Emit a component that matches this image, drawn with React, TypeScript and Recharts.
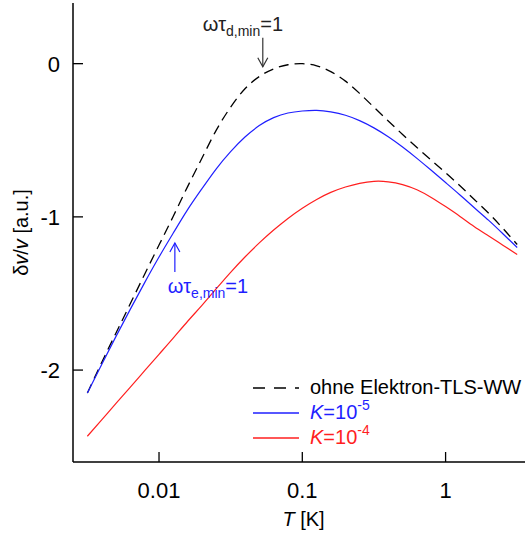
import { LineChart, Line, XAxis, YAxis, Legend, ReferenceDot } from "recharts";

// temperature grid [K], ten points per decade
const T = [
  0.00316, 0.00398, 0.00501, 0.00631, 0.00794, 0.01, 0.0126, 0.0158, 0.02, 0.0251, 0.0316, 0.0398, 0.0501, 0.0631, 0.0794, 0.1,
  0.126, 0.158, 0.2, 0.251, 0.316, 0.398, 0.501, 0.631, 0.794, 1, 1.26, 1.58, 2, 2.51, 3.16,
];
// dv/v
const ohneWW = [
  -2.15, -1.95, -1.758, -1.566, -1.374, -1.184, -0.994, -0.804, -0.614, -0.434, -0.284, -0.164, -0.084, -0.034, -0.007, 0.0,
  -0.014, -0.052, -0.114, -0.194, -0.284, -0.374, -0.462, -0.547, -0.63, -0.712, -0.797, -0.885, -0.977, -1.075, -1.18,
];
const k1e5 = [
  -2.15, -1.963, -1.78, -1.602, -1.429, -1.262, -1.104, -0.954, -0.814, -0.686, -0.574, -0.479, -0.404, -0.352, -0.322, -0.309,
  -0.305, -0.315, -0.337, -0.372, -0.419, -0.477, -0.544, -0.618, -0.696, -0.776, -0.857, -0.939, -1.023, -1.11, -1.2,
];
const k1e4 = [
  -2.432, -2.325, -2.218, -2.111, -2.004, -1.897, -1.79, -1.683, -1.576, -1.469, -1.362, -1.262, -1.17, -1.086, -1.01, -0.943,
  -0.886, -0.84, -0.805, -0.781, -0.768, -0.771, -0.789, -0.823, -0.873, -0.933, -0.997, -1.063, -1.125, -1.185, -1.245,
];

const xTicks = [0.01, 0.1, 1];
const yTicks = [-2, -1, 0];
const legendOrder = ["ohne", "k5", "k4"];

const data = T.map((t, i) => ({ T: t, ohne: ohneWW[i], k5: k1e5[i], k4: k1e4[i] }));

const FONT = "'Liberation Sans', Arial, Helvetica, sans-serif";
const BLUE = "#1f1fff";
const RED = "#ff1f1f";

const BottomTick = (p: any) => (
  <g>
    <line x1={p.x} y1={p.y} x2={p.x} y2={p.y - 10} stroke="#000" strokeWidth={1.3} />
    <text x={p.x} y={p.y + 36} textAnchor="middle" fontSize={22} fill="#000">
      {String(p.payload.value)}
    </text>
  </g>
);

const TopTick = (p: any) => (
  <line x1={p.x} y1={p.y} x2={p.x} y2={p.y + 10} stroke="#000" strokeWidth={1.3} />
);

const LeftTick = (p: any) => (
  <g>
    <line x1={p.x} y1={p.y} x2={p.x + 10} y2={p.y} stroke="#000" strokeWidth={1.3} />
    <text x={p.x - 13} y={p.y + 8} textAnchor="end" fontSize={22} fill="#000">
      {String(p.payload.value)}
    </text>
  </g>
);

const YLabel = ({ viewBox }: any) => {
  const cy = viewBox.y + viewBox.height / 2;
  return (
    <text x={28} y={cy} transform={`rotate(-90, 28, ${cy})`} textAnchor="middle" fontSize={20} fill="#000">
      δ<tspan fontStyle="italic">v</tspan>/<tspan fontStyle="italic">v</tspan> [a.u.]
    </text>
  );
};

const XLabel = ({ viewBox }: any) => (
  <text x={viewBox.x + viewBox.width / 2} y={526} textAnchor="middle" fontSize={20} fill="#000">
    <tspan fontStyle="italic">T</tspan> [K]
  </text>
);

// arrow + text, anchored at the arrow tip
const DownNote = ({ cx, cy }: any) => (
  <g>
    <line x1={cx} y1={cy} x2={cx} y2={cy - 29} stroke="#333" strokeWidth={1.2} />
    <polyline points={`${cx - 5},${cy - 9} ${cx},${cy} ${cx + 5},${cy - 9}`} fill="none" stroke="#333" strokeWidth={1.2} />
    <text x={cx - 60} y={cy - 36} fontSize={20} fill="#222">
      ωτ<tspan fontSize={14} dy={5}>d,min</tspan>
      <tspan dy={-5}>=1</tspan>
    </text>
  </g>
);

const UpNote = ({ cx, cy }: any) => (
  <g>
    <line x1={cx} y1={cy} x2={cx} y2={cy + 29} stroke={BLUE} strokeWidth={1.2} />
    <polyline points={`${cx - 5},${cy + 9} ${cx},${cy} ${cx + 5},${cy + 9}`} fill="none" stroke={BLUE} strokeWidth={1.2} />
    <text x={cx - 7} y={cy + 50} fontSize={20} fill={BLUE}>
      ωτ<tspan fontSize={14} dy={5}>e,min</tspan>
      <tspan dy={-5}>=1</tspan>
    </text>
  </g>
);

const sup = { fontSize: 14, verticalAlign: 0, position: "relative" as const, top: -9 };

const legendText: Record<string, any> = {
  ohne: <span>ohne Elektron-TLS-WW</span>,
  k5: (
    <span>
      <i>K</i>=10<sup style={sup}>-5</sup>
    </span>
  ),
  k4: (
    <span>
      <i>K</i>=10<sup style={sup}>-4</sup>
    </span>
  ),
};

const LegendBox = ({ payload }: any) => {
  const items = legendOrder
    .map((k) => (payload || []).find((e: any) => e.dataKey === k))
    .filter(Boolean);
  return (
    <div style={{ fontFamily: FONT, fontSize: 20 }}>
      {items.map((e: any) => (
        <div key={e.dataKey} style={{ display: "flex", alignItems: "center", height: 25, color: e.color }}>
          <svg width={46} height={10} style={{ marginRight: 11 }}>
            <line x1={0} y1={5} x2={46} y2={5} stroke={e.color} strokeWidth={1.3}
              strokeDasharray={e.dataKey === "ohne" ? "12 9" : undefined} />
          </svg>
          <span style={{ color: e.dataKey === "ohne" ? "#000" : e.color, whiteSpace: "nowrap" }}>
            {legendText[e.dataKey]}
          </span>
        </div>
      ))}
    </div>
  );
};

export default function App() {
  return (
    <div style={{ position: "absolute", left: 0, top: 0, width: 525, height: 533, overflow: "hidden", background: "#fff", fontFamily: FONT }}>
      <LineChart width={540} height={533} data={data} margin={{ top: 3, right: 6, bottom: 0, left: 0 }}>
        <XAxis
          dataKey="T"
          type="number"
          scale="log"
          domain={[0.00251, 4.14]}
          allowDataOverflow
          ticks={xTicks}
          interval={0}
          height={71}
          tickSize={0}
          tickMargin={0}
          tickLine={false}
          tick={BottomTick}
          axisLine={{ stroke: "#000", strokeWidth: 1.5 }}
          label={{ content: XLabel }}
        />
        <XAxis
          xAxisId="top"
          orientation="top"
          dataKey="T"
          type="number"
          scale="log"
          domain={[0.00251, 4.14]}
          allowDataOverflow
          ticks={xTicks}
          interval={0}
          height={0}
          tickSize={0}
          tickMargin={0}
          tickLine={false}
          tick={TopTick}
          axisLine={{ stroke: "#000", strokeWidth: 1.5 }}
        />
        <YAxis
          type="number"
          domain={[-2.6, 0.396]}
          allowDataOverflow
          ticks={yTicks}
          interval={0}
          width={73}
          tickSize={0}
          tickMargin={0}
          tickLine={false}
          tick={LeftTick}
          axisLine={{ stroke: "#000", strokeWidth: 1.5 }}
          label={{ content: YLabel }}
        />
        <Legend
          layout="vertical"
          align="center"
          verticalAlign="middle"
          content={LegendBox}
          wrapperStyle={{ position: "absolute", left: 253, top: 375, width: 280 }}
        />
        <Line dataKey="ohne" name="ohne Elektron-TLS-WW" type="natural" stroke="#000" strokeWidth={1.3}
          strokeDasharray="10 6" dot={false} isAnimationActive={false} />
        <Line dataKey="k5" name="K=10^-5" type="natural" stroke={BLUE} strokeWidth={1.2}
          dot={false} isAnimationActive={false} />
        <Line dataKey="k4" name="K=10^-4" type="natural" stroke={RED} strokeWidth={1.2}
          dot={false} isAnimationActive={false} />
        <ReferenceDot x={0.053} y={-0.02} shape={DownNote} />
        <ReferenceDot x={0.0129} y={-1.17} shape={UpNote} />
      </LineChart>
    </div>
  );
}
